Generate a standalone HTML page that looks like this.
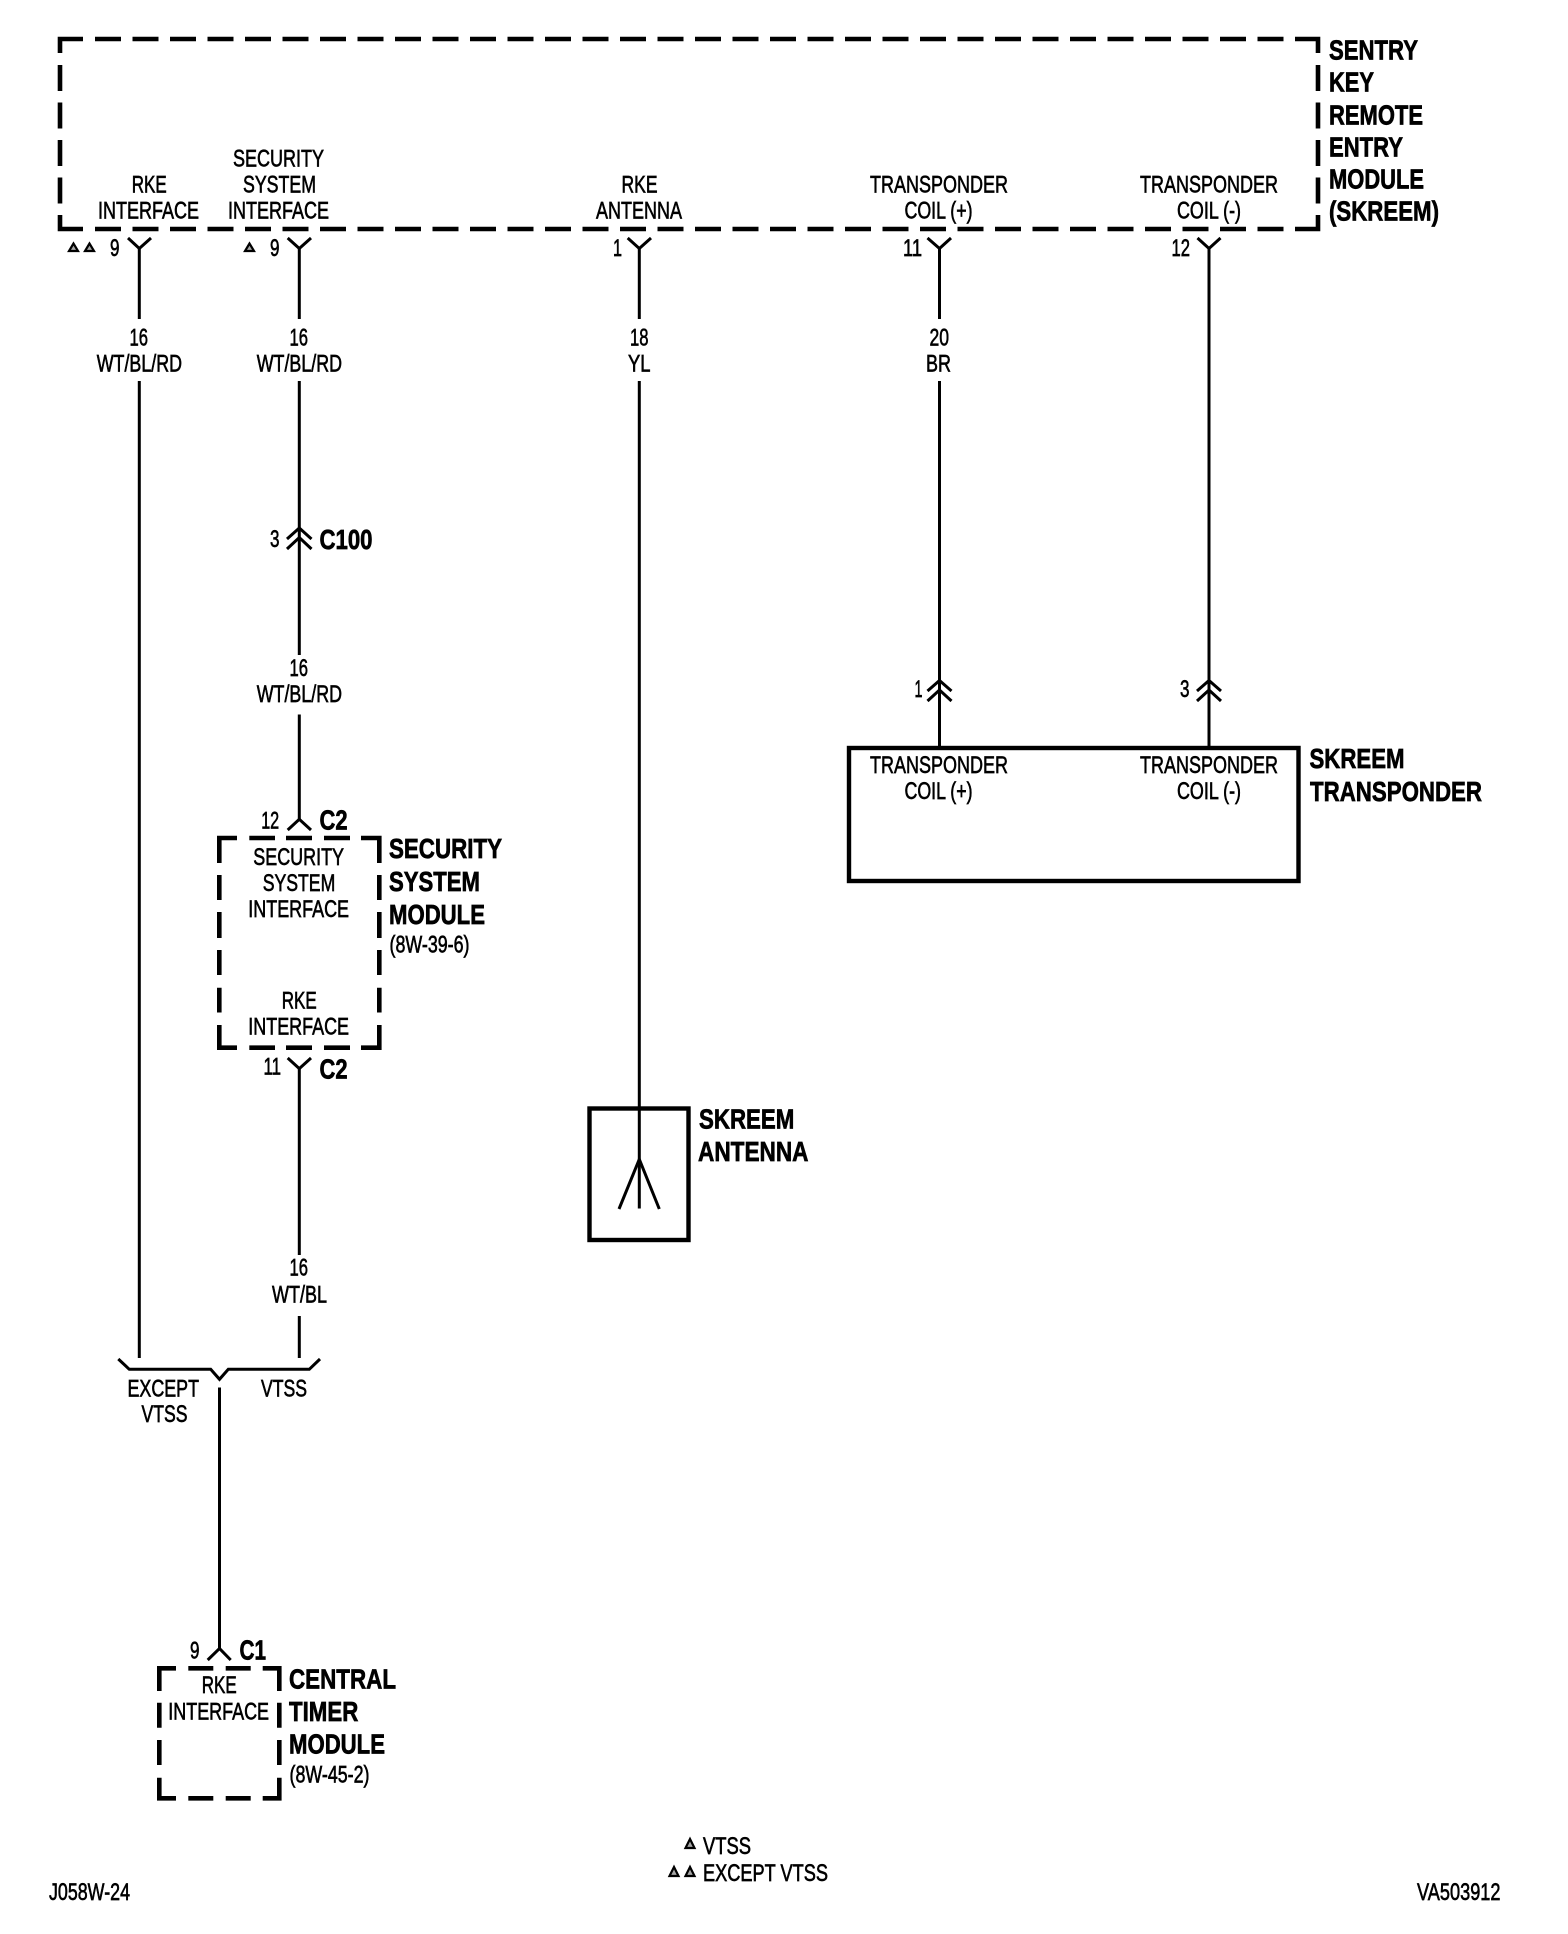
<!DOCTYPE html>
<html><head><meta charset="utf-8"><title>SKREEM wiring diagram</title>
<style>
html,body{margin:0;padding:0;background:#fff}
svg{display:block}
text{font-family:"Liberation Sans",Arial,sans-serif;fill:#000}
.t{font-size:24.5px;stroke:#000;stroke-width:.65px}
.b{font-size:28px;font-weight:bold;stroke:#000;stroke-width:.7px}
.w{fill:none;stroke:#000;stroke-width:3}
.d{fill:none;stroke:#000;stroke-width:4.6;stroke-linejoin:miter}
.s{fill:none;stroke:#000;stroke-width:4.4}
.r{fill:#000;fill-opacity:.35;stroke:#000;stroke-width:2.2}
</style></head><body>
<svg width="1568" height="1934" viewBox="0 0 1568 1934" xmlns="http://www.w3.org/2000/svg">
<rect width="1568" height="1934" fill="#fff"/>

<!-- SKREEM dashed box -->
<path class="d" d="M60 53V39H83M1295 39H1318V53M60 215V229H83M1295 229H1318V215"/>
<path class="d" stroke-dasharray="26 11.5" d="M95 39H1290M95 229H1290M60 65V205M1318 65V205"/>

<!-- SKREEM labels -->
<text class="b" x="1329" y="59.5" textLength="89" lengthAdjust="spacingAndGlyphs">SENTRY</text>
<text class="b" x="1329" y="91.7" textLength="45" lengthAdjust="spacingAndGlyphs">KEY</text>
<text class="b" x="1329" y="124.3" textLength="94" lengthAdjust="spacingAndGlyphs">REMOTE</text>
<text class="b" x="1329" y="156.7" textLength="74" lengthAdjust="spacingAndGlyphs">ENTRY</text>
<text class="b" x="1329" y="188.3" textLength="95" lengthAdjust="spacingAndGlyphs">MODULE</text>
<text class="b" x="1329" y="220.7" textLength="110" lengthAdjust="spacingAndGlyphs">(SKREEM)</text>

<text class="t" x="131.7" y="192.7" textLength="35" lengthAdjust="spacingAndGlyphs">RKE</text>
<text class="t" x="98" y="218.5" textLength="101" lengthAdjust="spacingAndGlyphs">INTERFACE</text>
<text class="t" x="233" y="166.7" textLength="91" lengthAdjust="spacingAndGlyphs">SECURITY</text>
<text class="t" x="243" y="192.7" textLength="73" lengthAdjust="spacingAndGlyphs">SYSTEM</text>
<text class="t" x="228" y="218.5" textLength="101" lengthAdjust="spacingAndGlyphs">INTERFACE</text>
<text class="t" x="621.5" y="192.7" textLength="36" lengthAdjust="spacingAndGlyphs">RKE</text>
<text class="t" x="596" y="218.5" textLength="86" lengthAdjust="spacingAndGlyphs">ANTENNA</text>
<text class="t" x="870" y="192.7" textLength="138" lengthAdjust="spacingAndGlyphs">TRANSPONDER</text>
<text class="t" x="904.5" y="218.5" textLength="68" lengthAdjust="spacingAndGlyphs">COIL (+)</text>
<text class="t" x="1140" y="192.7" textLength="138" lengthAdjust="spacingAndGlyphs">TRANSPONDER</text>
<text class="t" x="1177" y="218.5" textLength="64" lengthAdjust="spacingAndGlyphs">COIL (-)</text>

<!-- Pin numbers -->
<text class="t" x="110" y="256" textLength="9.5" lengthAdjust="spacingAndGlyphs">9</text>
<text class="t" x="270" y="256" textLength="9.5" lengthAdjust="spacingAndGlyphs">9</text>
<text class="t" x="613" y="256" textLength="9" lengthAdjust="spacingAndGlyphs">1</text>
<text class="t" x="903" y="256" textLength="19" lengthAdjust="spacingAndGlyphs">11</text>
<text class="t" x="1171.5" y="256" textLength="18.5" lengthAdjust="spacingAndGlyphs">12</text>

<!-- Triangles -->
<path class="r" d="M73.5 243.5L69 251H78ZM89.5 243.5L85 251H94ZM249.5 243.5L245 251H254Z"/>
<path class="r" d="M690 1839L685.5 1848H694.5ZM674 1867L669.5 1876H678.5ZM690 1867L685.5 1876H694.5Z"/>

<!-- Wires -->
<path class="w" d="M139.3 248V319M139.3 381V1358"/>
<path class="w" d="M299.3 248V319M299.3 381V655M299.3 714.5V819M299.3 1068V1255M299.3 1316V1358"/>
<path class="w" d="M639.3 248V319M639.3 381V1208.5"/>
<path class="w" d="M939.5 248V319M939.5 381V749"/>
<path class="w" d="M1209 248V749"/>
<path class="w" d="M219.5 1387.5V1648"/>

<!-- Y connectors -->
<path class="w" d="M128 238L139.3 248.5L151 238M287.7 238L299.3 248.5L311 238M627.7 238L639.3 248.5L651 238M927.5 238L939.5 248.5L951 238M1197.5 238L1209 248.5L1220.5 238"/>
<path class="w" d="M287.7 1058L299.3 1068.6L311 1058"/>
<path class="w" d="M287.7 830L299.3 819.3L311 830M207.7 1660L219.5 1648.5L230.7 1660"/>

<!-- Double chevrons -->
<path class="w" d="M287 539L299.3 528L311.5 539M287 549L299.3 537.5L311.5 549"/>
<path class="w" d="M927.5 691L939.5 680.5L951.5 691M927.5 701L939.5 690L951.5 701"/>
<path class="w" d="M1197 691L1209 680.5L1221 691M1197 701L1209 690L1221 701"/>

<!-- Wire labels -->
<text class="t" x="129.5" y="345.7" textLength="18.5" lengthAdjust="spacingAndGlyphs">16</text>
<text class="t" x="96.7" y="371.7" textLength="85.3" lengthAdjust="spacingAndGlyphs">WT/BL/RD</text>
<text class="t" x="289.5" y="345.7" textLength="18.5" lengthAdjust="spacingAndGlyphs">16</text>
<text class="t" x="256.7" y="371.7" textLength="85.3" lengthAdjust="spacingAndGlyphs">WT/BL/RD</text>
<text class="t" x="630" y="345.7" textLength="18.5" lengthAdjust="spacingAndGlyphs">18</text>
<text class="t" x="628" y="371.7" textLength="22.5" lengthAdjust="spacingAndGlyphs">YL</text>
<text class="t" x="929.5" y="345.7" textLength="19.5" lengthAdjust="spacingAndGlyphs">20</text>
<text class="t" x="926" y="371.7" textLength="25" lengthAdjust="spacingAndGlyphs">BR</text>
<text class="t" x="289.5" y="676" textLength="18.5" lengthAdjust="spacingAndGlyphs">16</text>
<text class="t" x="256.7" y="702" textLength="85.3" lengthAdjust="spacingAndGlyphs">WT/BL/RD</text>
<text class="t" x="289.5" y="1275.5" textLength="18.5" lengthAdjust="spacingAndGlyphs">16</text>
<text class="t" x="272" y="1302.5" textLength="55" lengthAdjust="spacingAndGlyphs">WT/BL</text>

<!-- C100 -->
<text class="t" x="270" y="547" textLength="9.5" lengthAdjust="spacingAndGlyphs">3</text>
<text class="b" x="319.5" y="549" textLength="53" lengthAdjust="spacingAndGlyphs">C100</text>

<!-- Transponder box -->
<text class="t" x="914.5" y="697" textLength="8" lengthAdjust="spacingAndGlyphs">1</text>
<text class="t" x="1180" y="697" textLength="9.5" lengthAdjust="spacingAndGlyphs">3</text>
<rect class="s" x="849" y="748" width="449.5" height="133"/>
<text class="t" x="870" y="773" textLength="138" lengthAdjust="spacingAndGlyphs">TRANSPONDER</text>
<text class="t" x="904.5" y="799" textLength="68" lengthAdjust="spacingAndGlyphs">COIL (+)</text>
<text class="t" x="1140" y="773" textLength="138" lengthAdjust="spacingAndGlyphs">TRANSPONDER</text>
<text class="t" x="1177" y="799" textLength="64" lengthAdjust="spacingAndGlyphs">COIL (-)</text>
<text class="b" x="1309.5" y="768" textLength="95" lengthAdjust="spacingAndGlyphs">SKREEM</text>
<text class="b" x="1310" y="801" textLength="172" lengthAdjust="spacingAndGlyphs">TRANSPONDER</text>

<!-- Security module -->
<text class="t" x="261.2" y="828.5" textLength="18" lengthAdjust="spacingAndGlyphs">12</text>
<text class="b" x="319.5" y="829.5" textLength="28" lengthAdjust="spacingAndGlyphs">C2</text>
<path class="d" d="M219.3 863V838H237M361 838H379.3V863M219.3 1025V1047.7H237M361 1047.7H379.3V1025"/>
<path class="d" d="M249.3 838H275M286 838H312M324 838H350M249.3 1047.7H275M286 1047.7H312M324 1047.7H350"/>
<path class="d" d="M219.3 875V900M219.3 912V938M219.3 950V975M219.3 987.7V1012.5M379.3 875V900M379.3 912V938M379.3 950V975M379.3 987.7V1012.5"/>
<text class="t" x="253.3" y="865" textLength="90.7" lengthAdjust="spacingAndGlyphs">SECURITY</text>
<text class="t" x="262.7" y="891" textLength="72.6" lengthAdjust="spacingAndGlyphs">SYSTEM</text>
<text class="t" x="248.3" y="917" textLength="100.7" lengthAdjust="spacingAndGlyphs">INTERFACE</text>
<text class="t" x="281.7" y="1008.3" textLength="35" lengthAdjust="spacingAndGlyphs">RKE</text>
<text class="t" x="248.3" y="1034.3" textLength="100.7" lengthAdjust="spacingAndGlyphs">INTERFACE</text>
<text class="b" x="389" y="858" textLength="113" lengthAdjust="spacingAndGlyphs">SECURITY</text>
<text class="b" x="389" y="891" textLength="91" lengthAdjust="spacingAndGlyphs">SYSTEM</text>
<text class="b" x="389" y="924" textLength="96" lengthAdjust="spacingAndGlyphs">MODULE</text>
<text class="t" x="389.5" y="952.7" textLength="80" lengthAdjust="spacingAndGlyphs">(8W-39-6)</text>
<text class="t" x="263.5" y="1074.5" textLength="17.5" lengthAdjust="spacingAndGlyphs">11</text>
<text class="b" x="319.5" y="1078.7" textLength="28" lengthAdjust="spacingAndGlyphs">C2</text>

<!-- Antenna -->
<rect class="s" x="589.5" y="1108.5" width="99" height="131.5"/>
<path class="w" d="M619 1209L639.3 1159.3L659.3 1209"/>
<text class="b" x="699" y="1128.7" textLength="95.3" lengthAdjust="spacingAndGlyphs">SKREEM</text>
<text class="b" x="698" y="1161" textLength="110.5" lengthAdjust="spacingAndGlyphs">ANTENNA</text>

<!-- Bracket -->
<path class="w" d="M118.3 1359L129.3 1369.3H210.7L219.5 1379.3L228.3 1369.3H309.3L320 1359"/>
<text class="t" x="127.5" y="1396.5" textLength="71.5" lengthAdjust="spacingAndGlyphs">EXCEPT</text>
<text class="t" x="141.5" y="1422" textLength="46" lengthAdjust="spacingAndGlyphs">VTSS</text>
<text class="t" x="261" y="1396.5" textLength="46" lengthAdjust="spacingAndGlyphs">VTSS</text>

<!-- Central timer module -->
<text class="t" x="190" y="1658.3" textLength="9.5" lengthAdjust="spacingAndGlyphs">9</text>
<text class="b" x="239.5" y="1659.5" textLength="26.5" lengthAdjust="spacingAndGlyphs">C1</text>
<path class="d" d="M159.3 1691V1668.3H176M262.7 1668.3H279.3V1691M159.3 1777.7V1798.3H176M262.7 1798.3H279.3V1777.7"/>
<path class="d" d="M188.3 1668.3H213.3M225.7 1668.3H250.7M188.3 1798.3H213.3M225.7 1798.3H250.7"/>
<path class="d" d="M159.3 1702.7V1727.7M159.3 1740V1765M279.3 1702.7V1727.7M279.3 1740V1765"/>
<text class="t" x="201.7" y="1693" textLength="35" lengthAdjust="spacingAndGlyphs">RKE</text>
<text class="t" x="168.3" y="1719.3" textLength="100.7" lengthAdjust="spacingAndGlyphs">INTERFACE</text>
<text class="b" x="289" y="1688.3" textLength="107" lengthAdjust="spacingAndGlyphs">CENTRAL</text>
<text class="b" x="289" y="1721" textLength="69.3" lengthAdjust="spacingAndGlyphs">TIMER</text>
<text class="b" x="289" y="1753.3" textLength="96" lengthAdjust="spacingAndGlyphs">MODULE</text>
<text class="t" x="289.5" y="1782.7" textLength="80" lengthAdjust="spacingAndGlyphs">(8W-45-2)</text>

<!-- Footer -->
<text class="t" x="703" y="1854" textLength="48" lengthAdjust="spacingAndGlyphs">VTSS</text>
<text class="t" x="703" y="1881" textLength="125" lengthAdjust="spacingAndGlyphs">EXCEPT VTSS</text>
<text class="t" x="49" y="1900" textLength="81" lengthAdjust="spacingAndGlyphs">J058W-24</text>
<text class="t" x="1417" y="1900" textLength="83.5" lengthAdjust="spacingAndGlyphs">VA503912</text>
</svg>
</body></html>
